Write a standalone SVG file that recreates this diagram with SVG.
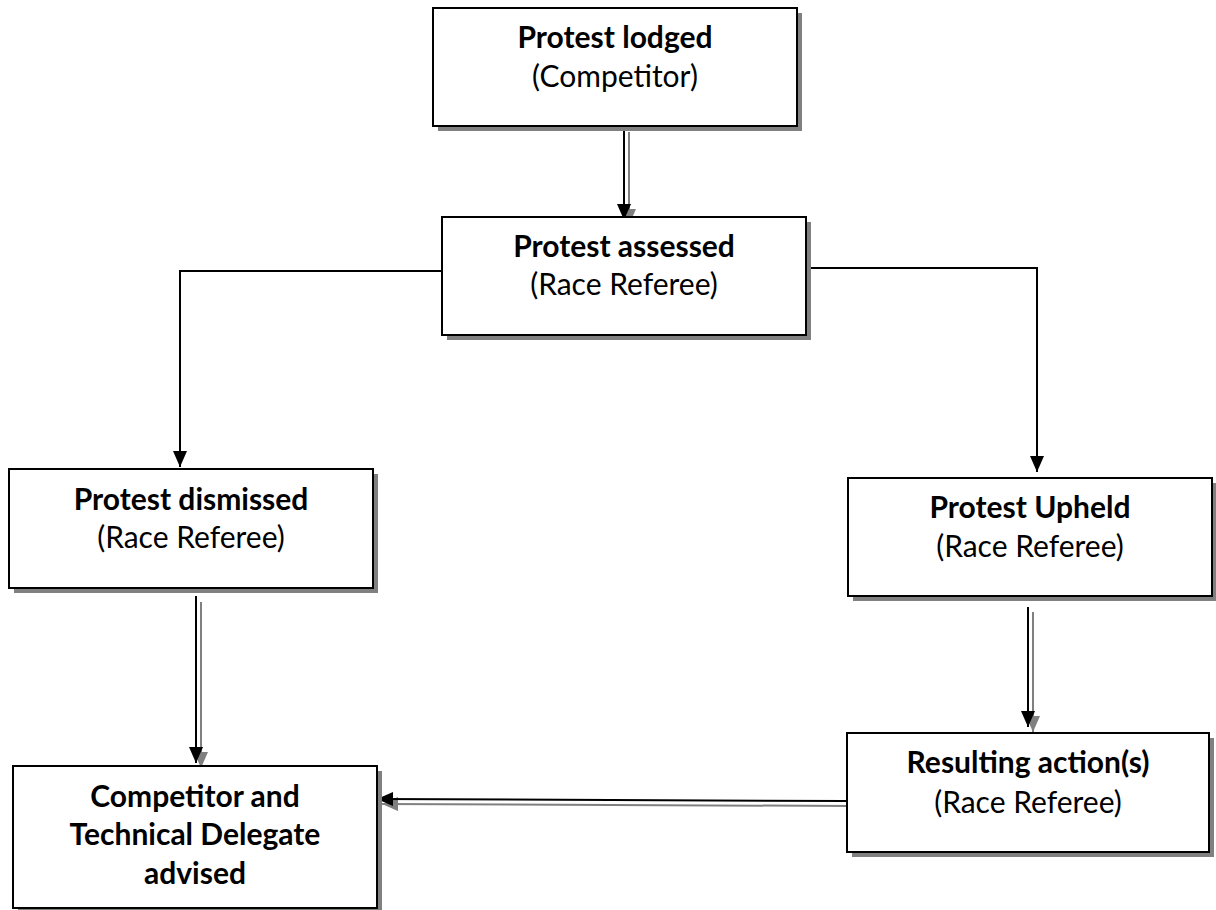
<svg xmlns="http://www.w3.org/2000/svg" width="1216" height="910" viewBox="0 0 1216 910">
<style>
.shadow{fill:#808080;}
.box{fill:#fff;stroke:#000;stroke-width:2;}
.t{font-family:Lato,"Open Sans",sans-serif;font-size:30px;text-anchor:middle;fill:#000;}
.b{font-weight:bold;}
.ln{fill:none;stroke:#000;stroke-width:2;}
.gl{fill:none;stroke:#808080;stroke-width:2;}
</style>
<defs>
<marker id="ah" markerUnits="userSpaceOnUse" markerWidth="16" markerHeight="14" refX="16" refY="7" orient="auto" viewBox="0 0 16 14">
<path d="M0,0 L16,7 L0,14 z" fill="#000"/>
</marker>
<marker id="ahg" markerUnits="userSpaceOnUse" markerWidth="16" markerHeight="14" refX="16" refY="7" orient="auto" viewBox="0 0 16 14">
<path d="M0,0 L16,7 L0,14 z" fill="#808080"/>
</marker>
</defs>
<rect width="1216" height="910" fill="#fff"/>

<g id="connectors">
<line class="gl" x1="629" y1="132" x2="629" y2="225" marker-end="url(#ahg)"/>
<line class="ln" x1="624" y1="123" x2="624" y2="220" marker-end="url(#ah)"/>
<polyline class="ln" points="442,271 180,271 180,467" marker-end="url(#ah)"/>
<polyline class="ln" points="806,268 1037,268 1037,472" marker-end="url(#ah)"/>
<line class="gl" x1="201" y1="602" x2="201" y2="768" marker-end="url(#ahg)"/>
<line class="ln" x1="196" y1="596" x2="196" y2="763" marker-end="url(#ah)"/>
<line class="gl" x1="1033" y1="612" x2="1033" y2="732" marker-end="url(#ahg)"/>
<line class="ln" x1="1028" y1="607" x2="1028" y2="727" marker-end="url(#ah)"/>
<line class="gl" x1="850" y1="806" x2="382" y2="804" marker-end="url(#ahg)"/>
<line class="ln" x1="846" y1="801" x2="377" y2="799" marker-end="url(#ah)"/>
</g>

<g id="lodged">
<rect class="shadow" x="438" y="13" width="364" height="118"/>
<rect class="box" x="433" y="8" width="364" height="118"/>
<text class="t b" x="615" y="48">Protest lodged</text>
<text class="t" x="615" y="87">(Competitor)</text>
</g>

<g id="assessed">
<rect class="shadow" x="447" y="222" width="364" height="118"/>
<rect class="box" x="442" y="217" width="364" height="118"/>
<text class="t b" x="624" y="257">Protest assessed</text>
<text class="t" x="624" y="295">(Race Referee)</text>
</g>

<g id="dismissed">
<rect class="shadow" x="14" y="474" width="364" height="119"/>
<rect class="box" x="9" y="469" width="364" height="119"/>
<text class="t b" x="191" y="510">Protest dismissed</text>
<text class="t" x="191" y="548">(Race Referee)</text>
</g>

<g id="upheld">
<rect class="shadow" x="853" y="483" width="364" height="118"/>
<rect class="box" x="848" y="478" width="364" height="118"/>
<text class="t b" x="1030" y="518">Protest Upheld</text>
<text class="t" x="1030" y="557">(Race Referee)</text>
</g>

<g id="resulting">
<rect class="shadow" x="852" y="738" width="362" height="119"/>
<rect class="box" x="847" y="733" width="362" height="119"/>
<text class="t b" x="1028" y="773">Resulting action(s)</text>
<text class="t" x="1028" y="813">(Race Referee)</text>
</g>

<g id="advised">
<rect class="shadow" x="18" y="771" width="364" height="142"/>
<rect class="box" x="13" y="766" width="364" height="142"/>
<text class="t b" x="195" y="807">Competitor and</text>
<text class="t b" x="195" y="845">Technical Delegate</text>
<text class="t b" x="195" y="884">advised</text>
</g>
</svg>
